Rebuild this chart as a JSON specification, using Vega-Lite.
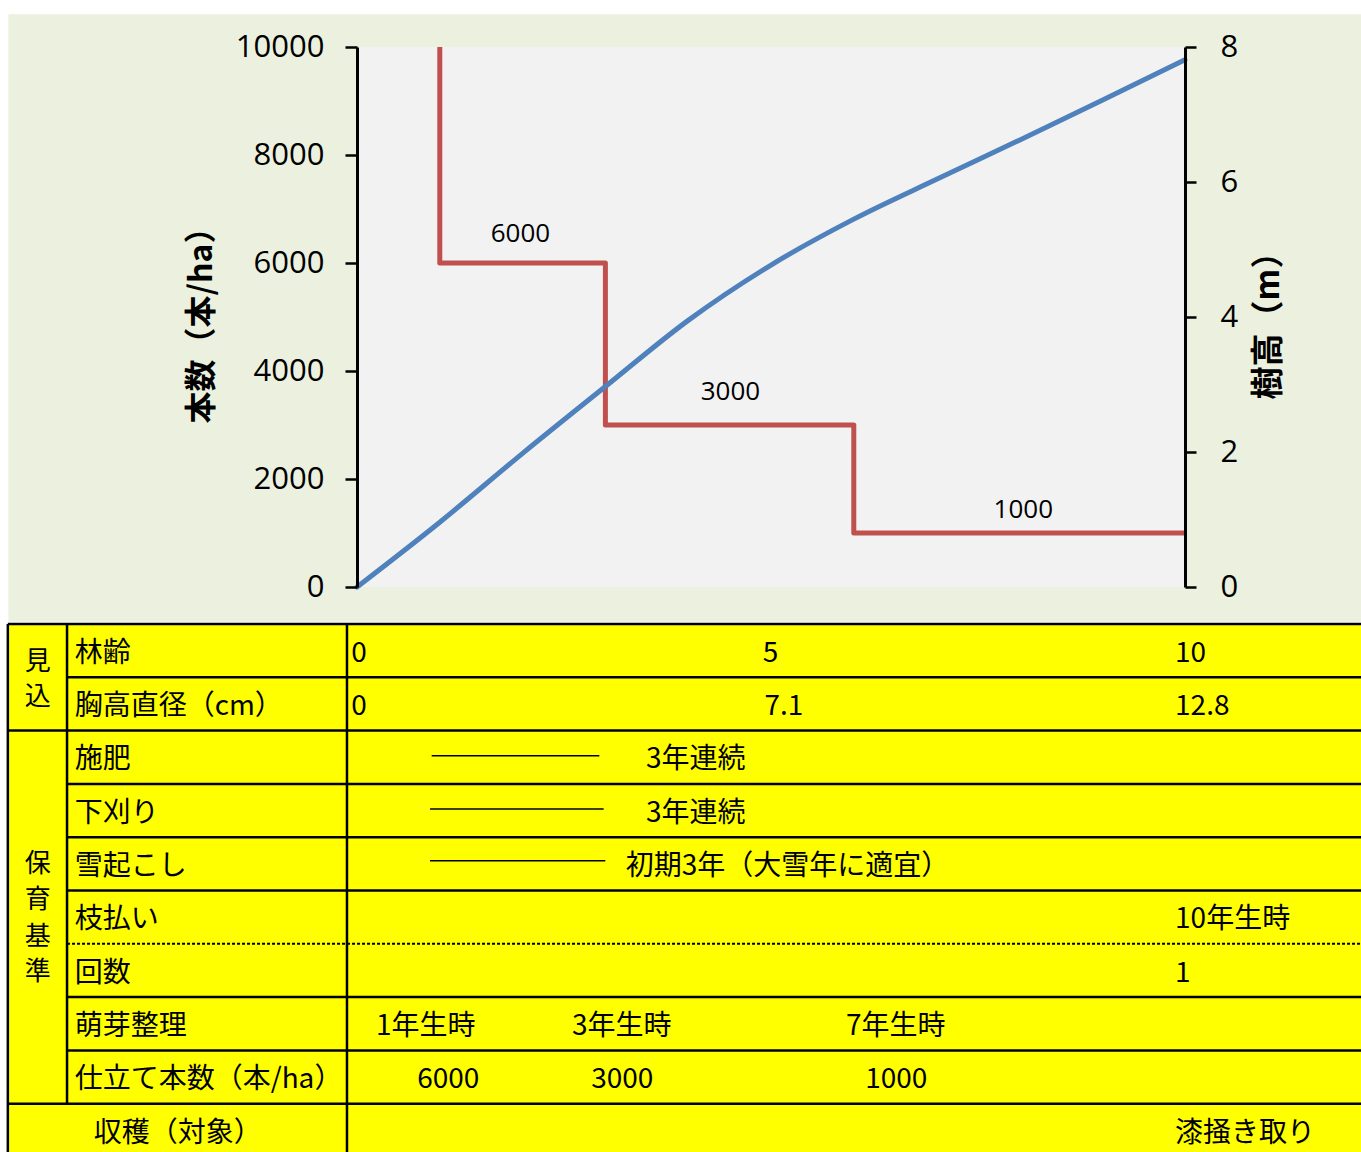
{
  "$schema": "https://vega.github.io/schema/vega-lite/v6.json",
  "width": 828,
  "height": 540,
  "autosize": "none",
  "padding": {"left": 357, "top": 47, "right": 176, "bottom": 565},
  "background": "white",
  "config": {"view": {"stroke": null}, "font": "Noto Sans CJK JP"},
  "resolve": {"scale": {"y": "independent"}, "axis": {"y": "independent"}},
  "layer": [
    {
      "encoding": {
        "x": {"field": "x", "type": "quantitative", "scale": {"domain": [0, 10]}, "axis": null},
        "y": {"field": "y", "type": "quantitative", "scale": {"domain": [0, 10], "range": [577, 1110], "nice": false, "zero": false}, "axis": null}
      },
      "layer": [
        {
          "data": {"values": [{"x": -4.21, "x2": 12.2, "y": -11.44, "y2": -0.04}]},
          "mark": {"type": "rect", "fill": "#EBF1DE", "clip": false},
          "encoding": {"x2": {"field": "x2"}, "y2": {"field": "y2"}}
        },
        {
          "data": {"values": [{"x": -4.217, "x2": 12.2, "y": 0, "y2": 10.3}]},
          "mark": {"type": "rect", "fill": "#FFFF00", "clip": false},
          "encoding": {"x2": {"field": "x2"}, "y2": {"field": "y2"}}
        },
        {
          "data": {"values": [
            {"x": -4.217, "x2": 12.2, "y": 0, "y2": 0},
            {"x": -3.502, "x2": 12.2, "y": 1, "y2": 1},
            {"x": -4.217, "x2": 12.2, "y": 2, "y2": 2},
            {"x": -3.502, "x2": 12.2, "y": 3, "y2": 3},
            {"x": -3.502, "x2": 12.2, "y": 4, "y2": 4},
            {"x": -3.502, "x2": 12.2, "y": 5, "y2": 5},
            {"x": -3.502, "x2": 12.2, "y": 7, "y2": 7},
            {"x": -3.502, "x2": 12.2, "y": 8, "y2": 8},
            {"x": -4.217, "x2": 12.2, "y": 9, "y2": 9},
            {"x": -4.217, "x2": -4.217, "y": 0, "y2": 10.3},
            {"x": -3.502, "x2": -3.502, "y": 0, "y2": 9},
            {"x": -0.121, "x2": -0.121, "y": 0, "y2": 10.3}
          ]},
          "mark": {"type": "rule", "color": "black", "strokeWidth": 2.5, "clip": false},
          "encoding": {"x2": {"field": "x2"}, "y2": {"field": "y2"}}
        },
        {
          "data": {"values": [{"x": -3.502, "x2": 12.2, "y": 6, "y2": 6}]},
          "mark": {"type": "rule", "color": "black", "strokeWidth": 2, "strokeDash": [3, 2], "clip": false},
          "encoding": {"x2": {"field": "x2"}, "y2": {"field": "y2"}}
        },
        {
          "data": {"values": [
            {"x": 0.902, "x2": 2.927, "y": 2.47, "y2": 2.47},
            {"x": 0.882, "x2": 2.979, "y": 3.47, "y2": 3.47},
            {"x": 0.882, "x2": 2.999, "y": 4.44, "y2": 4.44}
          ]},
          "mark": {"type": "rule", "color": "black", "strokeWidth": 1.5, "clip": false},
          "encoding": {"x2": {"field": "x2"}, "y2": {"field": "y2"}}
        },
        {
          "data": {"values": [
            {"x": -3.41, "y": 0.56, "t": "林齢"},
            {"x": -3.41, "y": 1.56, "t": "胸高直径（cm）"},
            {"x": -3.41, "y": 2.56, "t": "施肥"},
            {"x": -3.41, "y": 3.56, "t": "下刈り"},
            {"x": -3.41, "y": 4.56, "t": "雪起こし"},
            {"x": -3.41, "y": 5.56, "t": "枝払い"},
            {"x": -3.41, "y": 6.56, "t": "回数"},
            {"x": -3.41, "y": 7.56, "t": "萌芽整理"},
            {"x": -3.41, "y": 8.56, "t": "仕立て本数（本/ha）"},
            {"x": -0.07, "y": 0.56, "t": "0"},
            {"x": 4.9, "y": 0.56, "t": "5"},
            {"x": 9.88, "y": 0.56, "t": "10"},
            {"x": -0.07, "y": 1.56, "t": "0"},
            {"x": 4.92, "y": 1.56, "t": "7.1"},
            {"x": 9.88, "y": 1.56, "t": "12.8"},
            {"x": 3.49, "y": 2.56, "t": "3年連続"},
            {"x": 3.49, "y": 3.56, "t": "3年連続"},
            {"x": 3.246, "y": 4.56, "t": "初期3年（大雪年に適宜）"},
            {"x": 9.88, "y": 5.56, "t": "10年生時"},
            {"x": 9.88, "y": 6.56, "t": "1"},
            {"x": 9.88, "y": 9.56, "t": "漆掻き取り"}
          ]},
          "mark": {"type": "text", "align": "left", "baseline": "middle", "font": "Noto Sans CJK JP", "fontSize": 28, "color": "black", "clip": false},
          "encoding": {"text": {"field": "t"}}
        },
        {
          "data": {"values": [
            {"x": -2.164, "y": 9.57, "t": "収穫（対象）"},
            {"x": 0.831, "y": 7.56, "t": "1年生時"},
            {"x": 3.198, "y": 7.56, "t": "3年生時"},
            {"x": 6.507, "y": 7.56, "t": "7年生時"},
            {"x": 1.103, "y": 8.56, "t": "6000"},
            {"x": 3.204, "y": 8.56, "t": "3000"},
            {"x": 6.513, "y": 8.56, "t": "1000"}
          ]},
          "mark": {"type": "text", "align": "center", "baseline": "middle", "font": "Noto Sans CJK JP", "fontSize": 28, "color": "black", "clip": false},
          "encoding": {"text": {"field": "t"}}
        },
        {
          "data": {"values": [
            {"x": -3.855, "y": 0.715, "t": "見"},
            {"x": -3.855, "y": 1.372, "t": "込"},
            {"x": -3.855, "y": 4.505, "t": "保"},
            {"x": -3.855, "y": 5.18, "t": "育"},
            {"x": -3.855, "y": 5.875, "t": "基"},
            {"x": -3.855, "y": 6.53, "t": "準"}
          ]},
          "mark": {"type": "text", "align": "center", "baseline": "middle", "font": "Noto Sans CJK JP", "fontSize": 26, "color": "black", "clip": false},
          "encoding": {"text": {"field": "t"}}
        }
      ]
    },
    {
      "encoding": {
        "x": {"field": "x", "type": "quantitative", "scale": {"domain": [0, 10]},
          "axis": {"values": [0, 5, 10], "labels": false, "title": null, "grid": false, "tickSize": 11, "tickWidth": 2.5, "tickColor": "black", "domainWidth": 3, "domainColor": "black", "zindex": 1}},
        "y": {"field": "y", "type": "quantitative", "scale": {"domain": [0, 10000]},
          "axis": {"orient": "left", "values": [0, 2000, 4000, 6000, 8000, 10000], "format": "d", "grid": false, "title": "本数（本/ha）",
            "titleFont": "Noto Sans CJK JP", "titleFontSize": 32, "titleFontWeight": "bold", "titleColor": "black", "titlePadding": 17,
            "labelFont": "Open Sans", "labelFontSize": 31, "labelColor": "black", "labelPadding": 21, "labelOverlap": false, "labelFlush": false,
            "tickSize": 12, "tickWidth": 2.5, "tickColor": "black", "domainWidth": 3, "domainColor": "black", "zindex": 1}}
      },
      "layer": [
        {
          "data": {"values": [{"x": 0, "x2": 10, "y": 0, "y2": 10000}]},
          "mark": {"type": "rect", "fill": "#F2F2F2"},
          "encoding": {"x2": {"field": "x2"}, "y2": {"field": "y2"}}
        },
        {
          "data": {"values": [
            {"i": 1, "x": 1, "y": 10000},
            {"i": 2, "x": 1, "y": 6000},
            {"i": 3, "x": 3, "y": 6000},
            {"i": 4, "x": 3, "y": 3000},
            {"i": 5, "x": 6, "y": 3000},
            {"i": 6, "x": 6, "y": 1000},
            {"i": 7, "x": 10, "y": 1000}
          ]},
          "mark": {"type": "line", "color": "#C0504D", "strokeWidth": 5, "strokeJoin": "round"},
          "encoding": {"order": {"field": "i", "type": "quantitative"}}
        },
        {
          "data": {"values": [
            {"x": 1.974, "y": 6546, "t": "6000"},
            {"x": 4.51, "y": 3602, "t": "3000"},
            {"x": 8.047, "y": 1435, "t": "1000"}
          ]},
          "mark": {"type": "text", "align": "center", "baseline": "middle", "font": "Open Sans", "fontSize": 26, "color": "black"},
          "encoding": {"text": {"field": "t"}}
        }
      ]
    },
    {
      "data": {"values": [
        {"x": 0, "h": 0},
        {"x": 1, "h": 0.96},
        {"x": 2, "h": 1.98},
        {"x": 3, "h": 2.97},
        {"x": 4, "h": 3.95},
        {"x": 5, "h": 4.77},
        {"x": 6, "h": 5.45},
        {"x": 7, "h": 6.04},
        {"x": 8, "h": 6.62},
        {"x": 9, "h": 7.21},
        {"x": 10, "h": 7.81}
      ]},
      "mark": {"type": "line", "color": "#4F81BD", "strokeWidth": 5, "interpolate": "monotone", "strokeCap": "round"},
      "encoding": {
        "x": {"field": "x", "type": "quantitative", "scale": {"domain": [0, 10]}, "axis": null},
        "y": {"field": "h", "type": "quantitative", "scale": {"domain": [0, 8]},
          "axis": {"orient": "right", "values": [0, 2, 4, 6, 8], "grid": false, "title": "樹高（m）",
            "titleAngle": 270, "titleBaseline": "top", "titleFont": "Noto Sans CJK JP", "titleFontSize": 33, "titleFontWeight": "bold", "titleColor": "black", "titlePadding": 15,
            "labelFont": "Open Sans", "labelFontSize": 31, "labelColor": "black", "labelPadding": 24, "labelOverlap": false, "labelFlush": false,
            "tickSize": 11, "tickWidth": 2.5, "tickColor": "black", "domainWidth": 3, "domainColor": "black", "zindex": 1}}
      }
    }
  ]
}
